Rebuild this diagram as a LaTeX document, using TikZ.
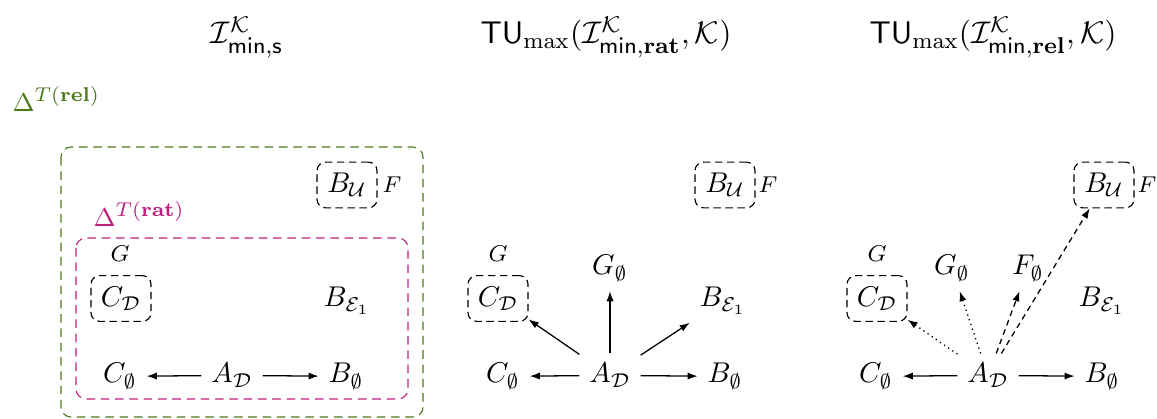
\documentclass[tikz,border=0pt]{standalone}
\usepackage{amsmath,amssymb}
\usetikzlibrary{arrows.meta}
\definecolor{relgreen}{RGB}{74,122,24}
\definecolor{ratmag}{RGB}{190,30,125}
\begin{document}
\begin{tikzpicture}[x=0.35pt,y=-0.35pt,
  m/.style={anchor=base, inner sep=3.3pt},
  lab/.style={anchor=base, inner sep=1pt, font=\footnotesize},
  ttl/.style={anchor=base, inner sep=0pt, font=\fontsize{11}{13}\selectfont},
  dlt/.style={anchor=base west, inner sep=0pt, font=\fontsize{9.5}{11}\selectfont},
  dbox/.style={draw, dash pattern=on 2.6pt off 1.6pt, rounded corners=3pt,
    minimum width=21pt, minimum height=16pt, inner sep=1pt},
  arr/.style={-{Latex[length=3.5pt,width=2.5pt]}, line width=0.45pt},
  dotarr/.style={arr, dash pattern=on 0.45pt off 1.3pt},
  dasharr/.style={arr, dash pattern=on 2pt off 1.5pt}]
\useasboundingbox (0,0) rectangle (1157,419);

% titles
\node[ttl] (t1) at (247,44) {$\mathcal{I}^{\mathcal{K}}_{\mathsf{min},\mathsf{s}}$};
\node[ttl] (t2) at (606,44) {$\mathsf{TU}_{\max}(\mathcal{I}^{\mathcal{K}}_{\mathsf{min},\mathbf{rat}},\mathcal{K})$};
\node[ttl] (t3) at (993,44) {$\mathsf{TU}_{\max}(\mathcal{I}^{\mathcal{K}}_{\mathsf{min},\mathbf{rel}},\mathcal{K})$};

% regions of panel 1
\node[dlt, text=relgreen] (drel) at (12,112) {$\Delta^{T(\mathbf{rel})}$};
\draw[relgreen, dash pattern=on 3pt off 2pt, rounded corners=3.5pt] (61,147) rectangle (423,417);
\node[dlt, text=ratmag] (drat) at (93,227) {$\Delta^{T(\mathbf{rat})}$};
\draw[ratmag, dash pattern=on 3pt off 2pt, rounded corners=3.5pt] (76,238) rectangle (408,399);

% panel 1
\node[m] (C0a) at (120,383) {$C_{\emptyset}$};
\node[m] (Aa) at (232,383) {$A_{\mathcal{D}}$};
\node[m] (B0a) at (346,383) {$B_{\emptyset}$};
\node[m] (BEa) at (347,307) {$B_{\mathcal{E}_1}$};
\node[lab] (Ga) at (120,262) {$G$};
\node[dbox] (CDa) at (121,298.5) {$C_{\mathcal{D}}$};
\node[dbox] (BUa) at (347,185) {$B_{\mathcal{U}}$};
\node[lab] (Fa) at (392,193) {$F$};
\draw[arr] (Aa) -- (C0a);
\draw[arr] (Aa) -- (B0a);

% panel 2
\node[m] (C0b) at (503,383) {$C_{\emptyset}$};
\node[m] (Ab) at (610,383) {$A_{\mathcal{D}}$};
\node[m] (B0b) at (725,383) {$B_{\emptyset}$};
\node[m] (BEb) at (723,307) {$B_{\mathcal{E}_1}$};
\node[m] (G0b) at (610,275) {$G_{\emptyset}$};
\node[lab] (Gb) at (498,262) {$G$};
\node[dbox] (CDb) at (498,298.5) {$C_{\mathcal{D}}$};
\node[dbox] (BUb) at (725,185) {$B_{\mathcal{U}}$};
\node[lab] (Fb) at (768,193) {$F$};
\draw[arr] (Ab) -- (C0b);
\draw[arr] (Ab) -- (B0b);
\draw[arr] (Ab) -- (CDb);
\draw[arr] (Ab) -- (G0b);
\draw[arr] (Ab) -- (BEb);

% panel 3
\node[m] (C0c) at (876,383) {$C_{\emptyset}$};
\node[m] (Ac) at (988,383) {$A_{\mathcal{D}}$};
\node[m] (B0c) at (1102,383) {$B_{\emptyset}$};
\node[m] (BEc) at (1102,307) {$B_{\mathcal{E}_1}$};
\node[m] (G0c) at (952,275) {$G_{\emptyset}$};
\node[m] (F0c) at (1028,275) {$F_{\emptyset}$};
\node[lab] (Gc) at (877,262) {$G$};
\node[dbox] (CDc) at (877,298.5) {$C_{\mathcal{D}}$};
\node[dbox] (BUc) at (1104,185) {$B_{\mathcal{U}}$};
\node[lab] (Fc) at (1147,193) {$F$};
\draw[arr] (Ac) -- (C0c);
\draw[arr] (Ac) -- (B0c);
\draw[dotarr] (Ac) -- (CDc);
\draw[dotarr] (Ac) -- (G0c);
\draw[dasharr] (Ac) -- (F0c);
\draw[dasharr] (Ac) -- (BUc);
\end{tikzpicture}
\end{document}
